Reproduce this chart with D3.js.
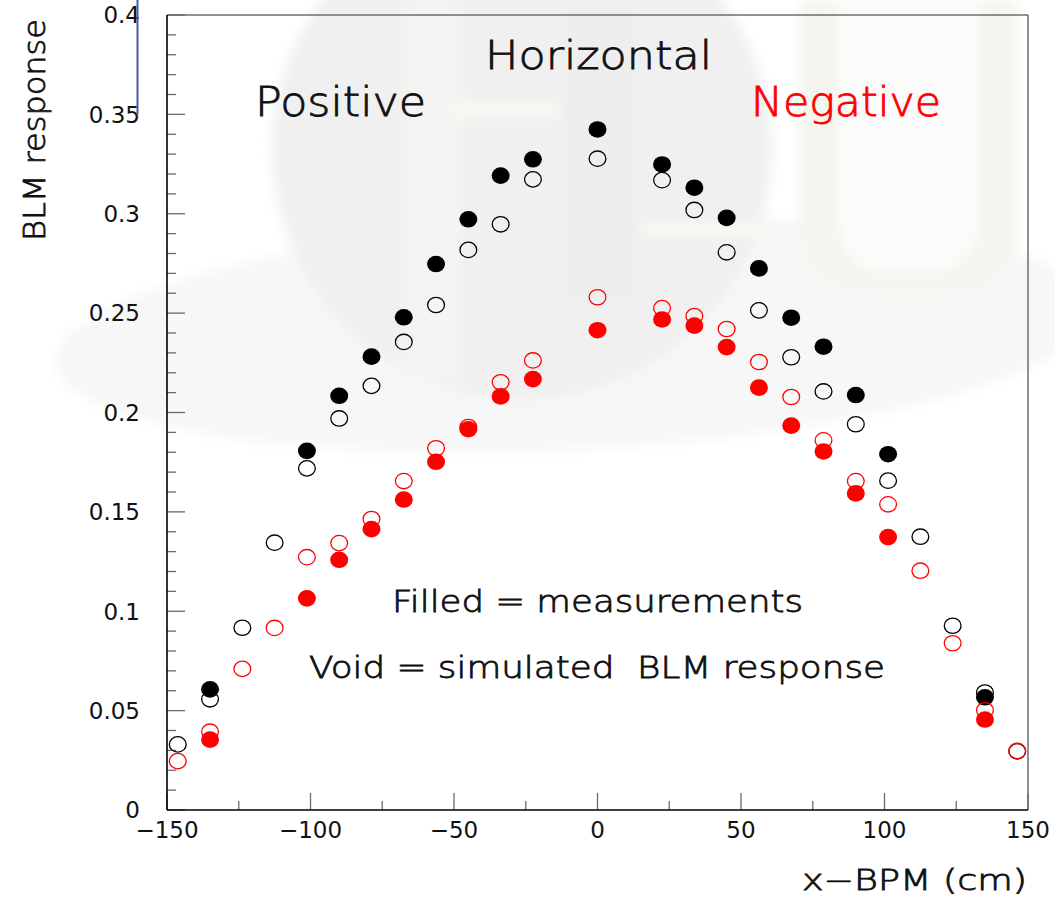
<!DOCTYPE html>
<html>
<head>
<meta charset="utf-8">
<script src="https://cdn.jsdelivr.net/npm/d3@7"></script>
<style>
  html, body { margin: 0; padding: 0; background: #ffffff; }
  svg { display: block; }
  text { font-family: "DejaVu Sans", "Liberation Sans", sans-serif; }
  .thin { font-weight: 200; stroke-width: 0.8px; }
</style>
</head>
<body>
<svg id="chart" width="1055" height="901"></svg>
<script>
// Beam position scan (cm)
const simX = [-146.25, -135, -123.75, -112.5, -101.25, -90, -78.75, -67.5, -56.25, -45, -33.75, -22.5,
              0, 22.5, 33.75, 45, 56.25, 67.5, 78.75, 90, 101.25, 112.5, 123.75, 135, 146.25];
const measX = [-135, -101.25, -90, -78.75, -67.5, -56.25, -45, -33.75, -22.5,
               0, 22.5, 33.75, 45, 56.25, 67.5, 78.75, 90, 101.25, 135];

// Measured BLM response (filled markers)
const posMeasY = [0.0607, 0.1807, 0.2084, 0.2281, 0.2479, 0.2747, 0.2972, 0.3192, 0.3274,
                  0.3424, 0.3248, 0.3131, 0.2979, 0.2725, 0.2477, 0.2331, 0.2088, 0.1790, 0.0567];
const negMeasY = [0.0354, 0.1065, 0.1259, 0.1413, 0.1562, 0.1752, 0.1916, 0.2081, 0.2168,
                  0.2414, 0.2468, 0.2437, 0.2329, 0.2125, 0.1934, 0.1804, 0.1593, 0.1373, 0.0455];

// Simulated BLM response (void markers)
const posSimY = [0.0330, 0.0557, 0.0917, 0.1345, 0.1719, 0.1970, 0.2134, 0.2355, 0.2541, 0.2818, 0.2947, 0.3173,
                 0.3277, 0.3169, 0.3019, 0.2806, 0.2514, 0.2278, 0.2106, 0.1941, 0.1657, 0.1375, 0.0927, 0.0591, 0.0295];
const negSimY = [0.0246, 0.0394, 0.0710, 0.0916, 0.1272, 0.1343, 0.1464, 0.1655, 0.1820, 0.1927, 0.2152, 0.2262,
                 0.2580, 0.2525, 0.2485, 0.2420, 0.2254, 0.2078, 0.1860, 0.1655, 0.1538, 0.1204, 0.0839, 0.0502, 0.0297];

const xTickLabels = [-150, -100, -50, 0, 50, 100, 150];
const yTickLabels = [0, 0.05, 0.1, 0.15, 0.2, 0.25, 0.3, 0.35, 0.4];

(function draw() {
const svg = d3.select("#chart");
const plotL = 167, plotR = 1028, plotT = 15, plotB = 810;

const x = d3.scaleLinear().domain([-150, 150]).range([plotL, plotR]);
const y = d3.scaleLinear().domain([0, 0.4]).range([plotB, plotT]);

// ---- faint logo in the background ----
const defs = svg.append("defs");
defs.append("filter").attr("id", "soft").attr("x", "-10%").attr("y", "-10%")
  .attr("width", "120%").attr("height", "120%")
  .append("feGaussianBlur").attr("stdDeviation", 6);

const bg = svg.append("g").attr("class", "logo").attr("filter", "url(#soft)");
bg.append("ellipse")
  .attr("cx", 575).attr("cy", 335).attr("rx", 520).attr("ry", 115)
  .attr("transform", "rotate(-3 575 335)")
  .attr("fill", "#f7f7f7");
bg.append("circle").attr("cx", 522).attr("cy", 150).attr("r", 250).attr("fill", "#f0f0f0");
bg.append("rect").attr("x", 404).attr("y", 0).attr("width", 58).attr("height", 380).attr("fill", "#f4f4f3");
bg.append("rect").attr("x", 450).attr("y", 102).attr("width", 110).attr("height", 16).attr("fill", "#f7f7f3");
bg.append("rect").attr("x", 640).attr("y", 222).attr("width", 125).attr("height", 14).attr("fill", "#f7f7f3");
bg.append("rect").attr("x", 565).attr("y", 0).attr("width", 70).attr("height", 300).attr("fill", "#eeeeee");
// right-hand "U"
bg.append("path")
  .attr("d", "M800,0 L1018,0 L1018,220 Q1018,292 946,292 L872,292 Q800,292 800,220 Z")
  .attr("fill", "#f4f5ee");
bg.append("path")
  .attr("d", "M838,0 L980,0 L980,215 Q980,272 930,272 L888,272 Q838,272 838,215 Z")
  .attr("fill", "#fbfbfa");

// ---- frame ----
svg.append("line").attr("x1", plotL).attr("x2", plotR).attr("y1", plotT).attr("y2", plotT)
  .attr("stroke", "#6e6e6e").attr("stroke-width", 1.5);
svg.append("line").attr("x1", plotR).attr("x2", plotR).attr("y1", plotT).attr("y2", plotB)
  .attr("stroke", "#6e6e6e").attr("stroke-width", 1.5);

// ---- axes ----
const tickColor = "#6a6a6a";
const yMinor = d3.range(0, 40.5, 1).map(v => v / 100);
svg.append("g").selectAll("line").data(yMinor).join("line")
  .attr("x1", plotL).attr("y1", d => y(d)).attr("y2", d => y(d))
  .attr("x2", d => plotL + (Math.round(d * 100) % 5 === 0 ? 18 : 9))
  .attr("stroke", tickColor).attr("stroke-width", 1.3);

const xMinor = d3.range(-150, 150.001, 25);
svg.append("g").selectAll("line").data(xMinor).join("line")
  .attr("y1", plotB).attr("x1", d => x(d)).attr("x2", d => x(d))
  .attr("y2", d => plotB - (d % 50 === 0 ? 17 : 9))
  .attr("stroke", tickColor).attr("stroke-width", 1.3);

svg.append("line").attr("x1", plotL).attr("x2", plotL).attr("y1", plotT).attr("y2", plotB)
  .attr("stroke", "#000").attr("stroke-width", 1.6);
svg.append("line").attr("x1", plotL).attr("x2", plotR).attr("y1", plotB).attr("y2", plotB)
  .attr("stroke", "#000").attr("stroke-width", 1.6);

const fmtY = d => d === 0 ? "0" : String(+d.toFixed(2));
svg.append("g").selectAll("text").data(yTickLabels).join("text")
  .attr("x", 140).attr("y", d => y(d)).attr("dy", "0.36em")
  .attr("text-anchor", "end").attr("font-size", 23).attr("fill", "#111")
  .text(fmtY);

svg.append("g").selectAll("text").data(xTickLabels).join("text")
  .attr("x", d => x(d)).attr("y", 838)
  .attr("text-anchor", "middle").attr("font-size", 23).attr("fill", "#111")
  .text(d => d < 0 ? "\u2212" + Math.abs(d) : String(d));

// blue marker line at the upper left
svg.append("line").attr("x1", 137.5).attr("x2", 137.5).attr("y1", 0).attr("y2", y(0.35))
  .attr("stroke", "#4a58a8").attr("stroke-width", 2);

// ---- axis titles ----
svg.append("text").attr("class", "thin").attr("x", 802).attr("y", 890)
  .attr("font-size", 28).attr("fill", "#111").attr("stroke", "#111")
  .attr("textLength", 225).attr("lengthAdjust", "spacingAndGlyphs")
  .text("x\u2212BPM (cm)");
svg.append("text").attr("class", "thin").attr("transform", "translate(45,241) rotate(-90)")
  .attr("font-size", 31).attr("fill", "#111").attr("stroke", "#111")
  .attr("textLength", 222).attr("lengthAdjust", "spacingAndGlyphs")
  .text("BLM response");

// ---- annotations ----
function label(txt, x0, y0, w, size, color) {
  svg.append("text").attr("class", "thin").attr("x", x0).attr("y", y0)
    .attr("font-size", size).attr("fill", color).attr("stroke", color)
    .attr("textLength", w).attr("lengthAdjust", "spacingAndGlyphs")
    .style("white-space", "pre")
    .text(txt);
}
label("Horizontal", 485, 69, 227, 39, "#111");
label("Positive", 255, 116, 171, 40, "#111");
label("Negative", 751, 116, 190, 40, "#ff0000");
label("Filled = measurements", 392, 612, 411, 31, "#111");
label("Void = simulated  BLM response", 309, 678, 576, 31, "#111");

// ---- markers ----
const rx = 9, ry = 8.3;
function openMarks(xs, ys, color) {
  svg.append("g").selectAll("ellipse").data(xs).join("ellipse")
    .attr("cx", d => x(d)).attr("cy", (d, i) => y(ys[i]))
    .attr("rx", rx - 0.6).attr("ry", ry - 0.6)
    .attr("fill", "none").attr("stroke", color).attr("stroke-width", 1.3);
}
function filledMarks(xs, ys, color) {
  svg.append("g").selectAll("ellipse").data(xs).join("ellipse")
    .attr("cx", d => x(d)).attr("cy", (d, i) => y(ys[i]))
    .attr("rx", rx).attr("ry", ry)
    .attr("fill", color);
}
openMarks(simX, posSimY, "#000");
filledMarks(measX, posMeasY, "#000");
openMarks(simX, negSimY, "#ff0000");
filledMarks(measX, negMeasY, "#ff0000");
})();
</script>
</body>
</html>
